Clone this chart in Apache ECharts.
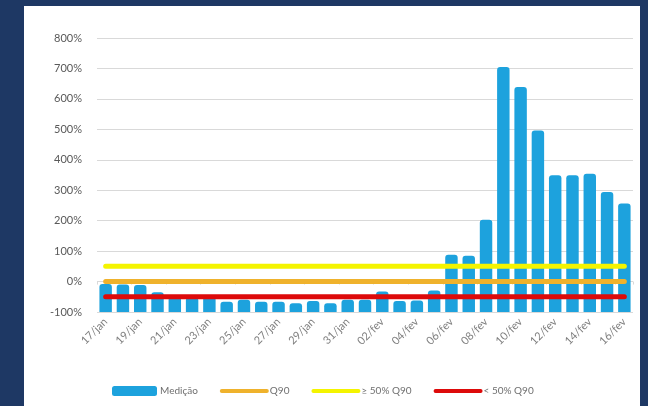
<!DOCTYPE html>
<html>
<head>
<meta charset="utf-8">
<script src="https://cdn.jsdelivr.net/npm/echarts@6/dist/echarts.min.js"></script>
<style>
html,body{margin:0;padding:0;background:#1e3864;}
#c{width:648px;height:406px;}
</style>
</head>
<body>
<div id="c"></div>
<script>
const categories = ['17/jan','18/jan','19/jan','20/jan','21/jan','22/jan','23/jan','24/jan','25/jan','26/jan','27/jan','28/jan','29/jan','30/jan','31/jan','01/fev','02/fev','03/fev','04/fev','05/fev','06/fev','07/fev','08/fev','09/fev','10/fev','11/fev','12/fev','13/fev','14/fev','15/fev','16/fev'];
const medicao = [-8,-10,-11,-35,-50,-52,-50,-66,-60,-66,-66,-71,-64,-71,-60,-60,-33,-64,-62,-29,88,85,203,705,639,496,349,349,354,294,256];
const q90 = [0,0,0,0,0,0,0,0,0,0,0,0,0,0,0,0,0,0,0,0,0,0,0,0,0,0,0,0,0,0,0];
const acima50 = [50,50,50,50,50,50,50,50,50,50,50,50,50,50,50,50,50,50,50,50,50,50,50,50,50,50,50,50,50,50,50];
const abaixo50 = [-50,-50,-50,-50,-50,-50,-50,-50,-50,-50,-50,-50,-50,-50,-50,-50,-50,-50,-50,-50,-50,-50,-50,-50,-50,-50,-50,-50,-50,-50,-50];
const yTicks = {min:-100, max:800, interval:100};

const chart = echarts.init(document.getElementById('c'), null, {renderer:'canvas'});
const font = 'Lato, "Open Sans", sans-serif';
const lineSeries = (name, data, color) => ({
  name, type:'line', data, symbol:'none', z:3,
  lineStyle:{color, width:5, cap:'round'}, itemStyle:{color}
});
const hideSym = {opacity:0};
const legLine = {width:4};
chart.setOption({
  backgroundColor:'#1e3864',
  animation:false,
  graphic:[{type:'rect', shape:{x:24,y:6,width:616,height:400}, style:{fill:'#ffffff'}, z:-10, silent:true}],
  grid:{left:97, right:15, top:38, bottom:94},
  xAxis:{
    type:'category', data:categories,
    axisLine:{show:false},
    axisTick:{show:true, length:3, lineStyle:{color:'#d9d9d9'}},
    axisLabel:{interval:1, rotate:45, color:'#7f7f7f', fontSize:11, fontFamily:font, margin:8}
  },
  yAxis:{
    type:'value', min:yTicks.min, max:yTicks.max, interval:yTicks.interval, startValue:-100,
    axisLine:{show:false}, axisTick:{show:false},
    splitLine:{lineStyle:{color:'#d9d9d9', width:1}},
    axisLabel:{formatter:'{value}%', color:'#595959', fontSize:11, fontFamily:font, margin:15}
  },
  legend:{
    left:107, top:381, itemWidth:45, itemHeight:10, itemGap:22,
    textStyle:{color:'#6f6f6f', fontSize:10, fontFamily:font, padding:[0,0,0,-2]},
    data:[
      {name:'Medição', icon:'roundRect'},
      {name:'Q90', itemStyle:hideSym, lineStyle:legLine},
      {name:'≥ 50% Q90', itemStyle:hideSym, lineStyle:legLine},
      {name:'< 50% Q90', itemStyle:hideSym, lineStyle:legLine}
    ]
  },
  series:[
    {name:'Medição', type:'bar', data:medicao, barCategoryGap:'28%', z:2,
     itemStyle:{color:'#1da2dd', borderRadius:[3,3,0,0]}},
    lineSeries('Q90', q90, '#efb22c'),
    lineSeries('≥ 50% Q90', acima50, '#f4f400'),
    lineSeries('< 50% Q90', abaixo50, '#dd0a0a')
  ]
});
</script>
</body>
</html>
